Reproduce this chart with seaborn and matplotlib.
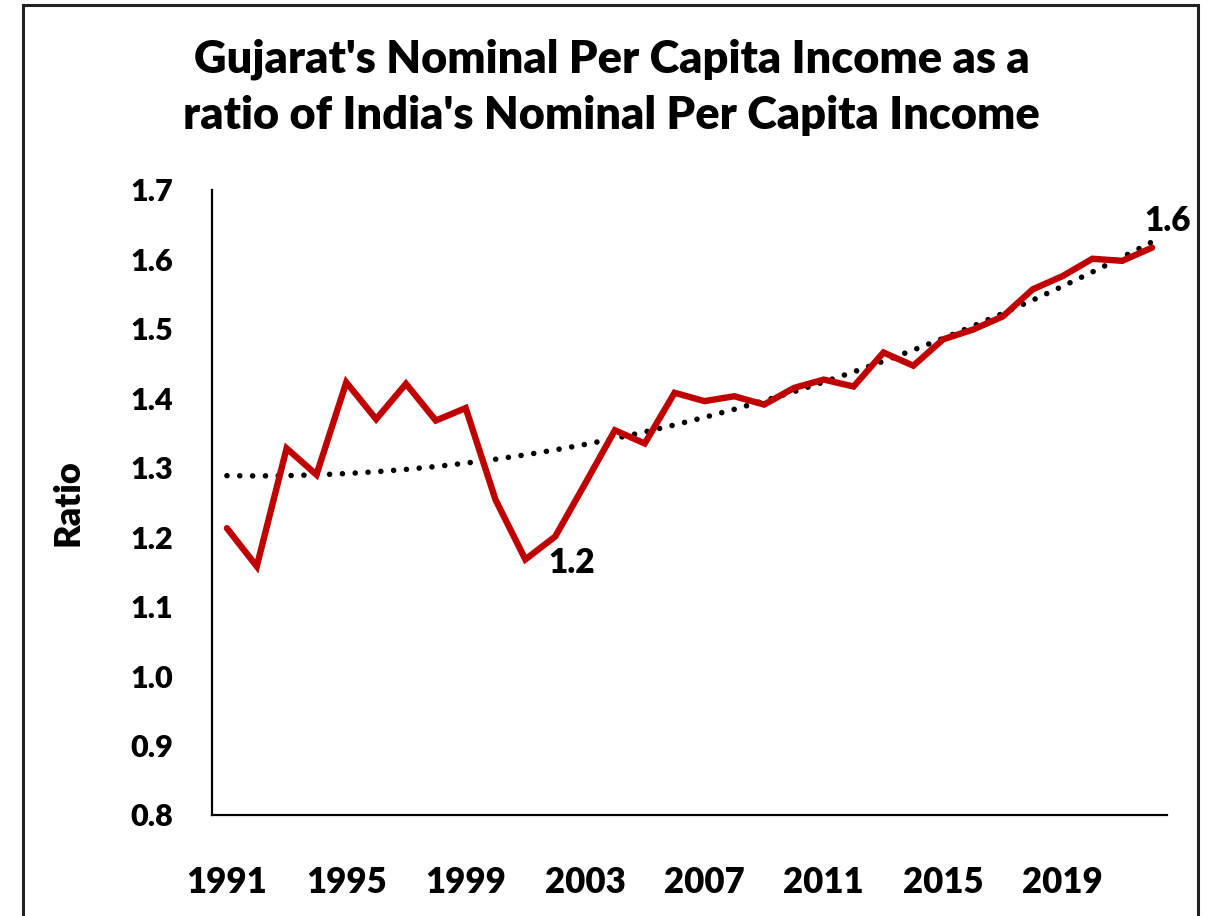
import numpy as np
import pandas as pd
import matplotlib
matplotlib.use("Agg")
import matplotlib.pyplot as plt
import matplotlib.patches as mpatches
import seaborn as sns

# ---- data ----
years = list(range(1991, 2023))
ratio = [1.213, 1.158, 1.328, 1.290, 1.423, 1.370, 1.421, 1.368, 1.386, 1.254,
         1.168, 1.201, 1.277, 1.354, 1.335, 1.408, 1.396, 1.403, 1.391, 1.415,
         1.427, 1.417, 1.466, 1.447, 1.485, 1.499, 1.518, 1.557, 1.576, 1.601,
         1.598, 1.617]
xtick_years = [1991, 1995, 1999, 2003, 2007, 2011, 2015, 2019]
yticks = [0.8, 0.9, 1.0, 1.1, 1.2, 1.3, 1.4, 1.5, 1.6, 1.7]
title = "Gujarat's Nominal Per Capita Income as a\nratio of India's Nominal Per Capita Income"
ylabel = "Ratio"
annot_low = (2002, "1.2")
annot_high = (2022, "1.6")

df = pd.DataFrame({"year": years, "ratio": ratio})

sns.set_theme(style="white")
plt.rcParams['font.family'] = ['Lato', 'DejaVu Sans']
plt.rcParams['text.color'] = 'black'
plt.rcParams['axes.labelcolor'] = 'black'
plt.rcParams['xtick.color'] = 'black'
plt.rcParams['ytick.color'] = 'black'

W, H = 1211, 916
WT = "heavy"
fig = plt.figure(figsize=(W / 100, H / 100), dpi=100)
ax_left, ax_right, ax_bottom, ax_top = 212, 1167, 815, 190
ax = fig.add_axes([ax_left / W, 1 - ax_bottom / H, (ax_right - ax_left) / W, (ax_bottom - ax_top) / H])

# polynomial (order 2) trendline, as Excel would compute it
coef = np.polyfit(df["year"], df["ratio"], 2)
df["trend"] = np.polyval(coef, df["year"])

sns.lineplot(data=df, x="year", y="trend", ax=ax, color="black", linewidth=4.0,
             linestyle=(0, (0.01, 2.3)), dash_capstyle="round")
sns.lineplot(data=df, x="year", y="ratio", ax=ax, color="#C00000", linewidth=4.6,
             solid_joinstyle="miter")

ax.set_xlim(1990.5, 2022.5)
ax.set_ylim(0.8, 1.7)
ax.set_xticks(xtick_years)
ax.set_xticklabels([str(y) for y in xtick_years], fontsize=25, fontweight=WT)
ax.set_yticks(yticks)
ax.set_yticklabels([f"{v:.1f}" for v in yticks], fontsize=22, fontweight=WT)
ax.tick_params(axis="x", length=0, pad=37)
ax.tick_params(axis="y", length=0, pad=28)
ax.set_xlabel("")
ax.set_ylabel(ylabel, fontsize=26, fontweight=WT)
ax.yaxis.set_label_coords(-0.133, 0.5)

for s in ["top", "right"]:
    ax.spines[s].set_visible(False)
for s in ["left", "bottom"]:
    ax.spines[s].set_color("black")
    ax.spines[s].set_linewidth(1.6)

for (yr, txt), off in [(annot_low, (12, -19)), (annot_high, (11, 19))]:
    yv = df.loc[df["year"] == yr, "ratio"].iloc[0]
    ax.annotate(txt, (yr, yv), xytext=off, textcoords="offset points",
                ha="center", va="center", fontsize=24, fontweight=WT)

fig.text(0.505, 1 - 39 / H, title, ha="center", va="top", fontsize=32.5,
         fontweight=WT, linespacing=1.42)

frame = mpatches.Rectangle((23 / W, -0.1), (1198 - 23) / W, 1.1 - 5 / H,
                           transform=fig.transFigure, fill=False,
                           edgecolor="#222222", linewidth=2.2, clip_on=False)
fig.add_artist(frame)

fig.savefig("out.png", dpi=100, facecolor="white")
